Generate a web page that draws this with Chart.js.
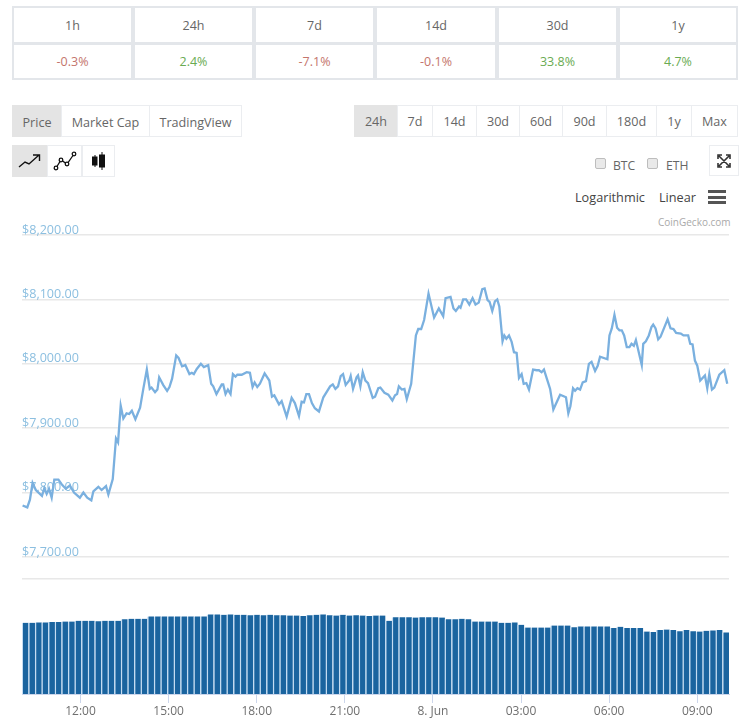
<!DOCTYPE html>
<html>
<head>
<meta charset="utf-8">
<title>Price chart</title>
<script src="https://cdn.jsdelivr.net/npm/chart.js@4"></script>
<style>
    html, body { margin: 0; padding: 0; background: #fff; }
    body { width: 748px; height: 720px; position: relative; overflow: hidden; font-family: "Open Sans", sans-serif; color: #666; }
    .abs { position: absolute; box-sizing: border-box; }
    .cell { border: 1px solid #e3e6ea; outline: 1px solid #e3e6ea; outline-offset: -2px; display: flex; align-items: center; justify-content: center; font-size: 12.5px; }
    .btn { border: 1px solid #ebedf0; display: flex; align-items: center; justify-content: center; font-size: 12.6px; background: #fff; }
    .btn.on { background: #e4e4e4; border-color: #e4e4e4; }
    .red { color: #c4756c; }
    .green { color: #6aab52; }
    .txt { white-space: nowrap; line-height: 1; }
    .check { width: 11px; height: 11px; background: #e9e9e9; border: 1px solid #bdbdbd; border-radius: 2px; }
    #chartBox { position: absolute; left: 0; top: 215px; width: 748px; height: 505px; }
</style>
</head>
<body>
<div id="statTable"></div>
<div id="buttons"></div>

<div class="abs btn on" style="left:12px;top:145px;width:36px;height:32px">
    <svg width="24" height="16" viewBox="0 0 24 16" fill="none" stroke="#111" stroke-width="1.4"><path d="M1 14 L7 9 L11 11 L21 2 M15 2 H21.5 V8"/></svg>
</div>
<div class="abs btn" style="left:47px;top:145px;width:35px;height:32px">
    <svg width="24" height="20" viewBox="0 0 24 20" fill="none" stroke="#111" stroke-width="1.3"><path d="M3 17 L8 9 L14 13 L21 3"/><circle cx="3" cy="17" r="1.8" fill="#fff"/><circle cx="8" cy="9" r="1.8" fill="#fff"/><circle cx="14" cy="13" r="1.8" fill="#fff"/><circle cx="21" cy="3" r="1.8" fill="#fff"/></svg>
</div>
<div class="abs btn" style="left:82px;top:145px;width:33px;height:32px">
    <svg width="16" height="20" viewBox="0 0 16 20" stroke="#111" fill="#111"><path d="M4 4 V16 M11 1 V19" stroke-width="1"/><rect x="1.5" y="6" width="4.5" height="8"/><rect x="8.5" y="4" width="5" height="12"/></svg>
</div>

<div class="abs check" style="left:595px;top:158px"></div>
<div class="abs txt" style="left:613px;top:160px;font-size:12.2px">BTC</div>
<div class="abs check" style="left:647px;top:158px"></div>
<div class="abs txt" style="left:666px;top:160px;font-size:12.2px">ETH</div>
<div class="abs btn" style="left:709px;top:145px;width:30px;height:31px">
    <svg width="14" height="14" viewBox="0 0 14 14" fill="none" stroke="#333" stroke-width="1.6"><path d="M2 2 L12 12 M12 2 L2 12 M1 5 V1 H5 M9 1 H13 V5 M1 9 V13 H5 M9 13 H13 V9"/></svg>
</div>
<div class="abs txt" style="left:575px;top:191px;font-size:12.7px;color:#444">Logarithmic</div>
<div class="abs txt" style="left:659px;top:191px;font-size:12.7px;color:#444">Linear</div>
<div class="abs" style="left:708px;top:190px;width:18px;height:3px;background:#555"></div>
<div class="abs" style="left:708px;top:196px;width:18px;height:3px;background:#555"></div>
<div class="abs" style="left:708px;top:201px;width:18px;height:3px;background:#555"></div>
<div class="abs txt" style="left:658px;top:217px;font-size:10px;color:#a9a9a9">CoinGecko.com</div>

<div id="chartBox"><canvas id="priceChart"></canvas></div>

<script>
/* ================= DATA ================= */
var statLabels = ["1h", "24h", "7d", "14d", "30d", "1y"];
var statValues = [-0.3, 2.4, -7.1, -0.1, 33.8, 4.7];

var priceTicks = [8200, 8100, 8000, 7900, 7800, 7700];
var timeTicks = [12, 15, 18, 21, 24, 27, 30, 33];
var timeLabels = ["12:00", "15:00", "18:00", "21:00", "8. Jun", "03:00", "06:00", "09:00"];

// hours counted from midnight of the first day
var priceHours = [
    10.03, 10.19, 10.28, 10.37, 10.48, 10.69, 10.77, 10.85, 10.93, 11.02, 11.11, 11.25, 11.36, 11.50, 11.64, 11.78,
    11.98, 12.10, 12.23, 12.37, 12.44, 12.61, 12.72, 12.87, 12.95, 13.10, 13.21, 13.28, 13.37, 13.46, 13.57, 13.66,
    13.75, 13.87, 14.03, 14.14, 14.26, 14.36, 14.42, 14.54, 14.62, 14.68, 14.82, 14.95, 15.03, 15.12, 15.26, 15.34,
    15.46, 15.57, 15.71, 15.79, 15.86, 15.96, 16.10, 16.20, 16.35, 16.45, 16.52, 16.63, 16.81, 16.86, 16.94, 17.02,
    17.11, 17.19, 17.28, 17.34, 17.49, 17.66, 17.77, 17.86, 17.93, 18.02, 18.11, 18.27, 18.43, 18.52, 18.60, 18.76,
    18.85, 19.02, 19.19, 19.30, 19.44, 19.53, 19.61, 19.69, 19.78, 19.88, 19.98, 20.12, 20.27, 20.50, 20.59, 20.68,
    20.77, 20.86, 20.94, 21.03, 21.15, 21.20, 21.28, 21.40, 21.45, 21.53, 21.61, 21.70, 21.79, 21.95, 22.03, 22.14,
    22.21, 22.35, 22.48, 22.62, 22.71, 22.78, 22.84, 22.94, 23.03, 23.11, 23.26, 23.32, 23.42, 23.50, 23.60, 23.70,
    23.85, 24.04, 24.20, 24.35, 24.43, 24.60, 24.70, 24.78, 24.89, 24.94, 25.03, 25.13, 25.24, 25.35, 25.45, 25.56,
    25.68, 25.76, 25.86, 25.93, 26.02, 26.11, 26.19, 26.26, 26.37, 26.43, 26.50, 26.59, 26.68, 26.76, 26.85, 26.93,
    27.02, 27.09, 27.18, 27.27, 27.41, 27.53, 27.61, 27.70, 27.78, 27.90, 27.99, 28.10, 28.33, 28.53, 28.61, 28.68,
    28.77, 28.84, 28.92, 29.01, 29.10, 29.21, 29.31, 29.40, 29.52, 29.61, 29.69, 29.94, 30.01, 30.09, 30.18, 30.27,
    30.35, 30.43, 30.51, 30.60, 30.69, 30.76, 30.84, 30.91, 31.11, 31.16, 31.25, 31.35, 31.44, 31.50, 31.58, 31.67,
    31.75, 31.99, 32.09, 32.19, 32.28, 32.44, 32.53, 32.69, 32.76, 32.84, 32.92, 33.00, 33.10, 33.26, 33.34, 33.41,
    33.50, 33.58, 33.75, 33.92, 34.02
];
var priceValues = [
    7780, 7777, 7789, 7815, 7804, 7795, 7807, 7798, 7806, 7792, 7820, 7820, 7813, 7806, 7811, 7800,
    7792, 7800, 7792, 7788, 7802, 7809, 7804, 7810, 7797, 7821, 7884, 7878, 7935, 7915, 7923, 7922,
    7927, 7914, 7932, 7961, 7991, 7961, 7963, 7956, 7960, 7979, 7967, 7958, 7964, 7977, 8013, 8009,
    7996, 7998, 7984, 7986, 7984, 7992, 8000, 7995, 7998, 7969, 7965, 7953, 7968, 7968, 7953, 7960,
    7953, 7984, 7980, 7983, 7983, 7987, 7986, 7964, 7971, 7964, 7969, 7985, 7974, 7949, 7951, 7937,
    7942, 7918, 7947, 7939, 7919, 7941, 7940, 7953, 7953, 7939, 7931, 7926, 7948, 7965, 7968, 7961,
    7965, 7981, 7984, 7967, 7974, 7981, 7961, 7979, 7982, 7965, 7987, 7974, 7970, 7947, 7949, 7962,
    7963, 7955, 7952, 7943, 7951, 7953, 7965, 7960, 7961, 7945, 7969, 7997, 8044, 8054, 8054, 8068,
    8109, 8072, 8086, 8074, 8102, 8104, 8086, 8082, 8089, 8087, 8100, 8100, 8092, 8102, 8092, 8095,
    8116, 8117, 8099, 8096, 8082, 8097, 8100, 8089, 8035, 8044, 8039, 8044, 8034, 8018, 8017, 7978,
    7984, 7969, 7970, 7960, 7991, 7990, 7990, 7987, 7991, 7974, 7961, 7929, 7952, 7948, 7923, 7934,
    7962, 7958, 7962, 7960, 7971, 7973, 8000, 8003, 7989, 7997, 8011, 8007, 8044, 8055, 8076, 8056,
    8052, 8052, 8044, 8026, 8026, 8031, 8028, 8037, 7998, 8031, 8035, 8044, 8057, 8061, 8055, 8038,
    8042, 8069, 8055, 8054, 8048, 8047, 8044, 8044, 8031, 8030, 8005, 7997, 7974, 7982, 7962, 7984,
    7960, 7963, 7983, 7990, 7969
];

// volume in billions, one bar per sampling step
var volumeValues = [
    17.8, 17.8, 17.9, 17.9, 18.0, 18.0, 18.1, 18.1, 18.3, 18.3, 18.3, 18.2, 18.3, 18.3, 18.3, 18.7,
    18.8, 18.8, 18.8, 19.4, 19.4, 19.4, 19.4, 19.4, 19.4, 19.4, 19.4, 19.4, 19.9, 19.9, 19.8, 19.9,
    19.8, 19.8, 19.7, 19.8, 19.7, 19.8, 19.7, 19.7, 19.6, 19.6, 19.5, 19.7, 19.8, 19.9, 19.7, 19.6,
    19.8, 19.6, 19.7, 19.6, 19.5, 19.6, 19.6, 18.3, 19.2, 19.2, 19.2, 19.1, 19.2, 19.2, 19.2, 19.1,
    18.7, 18.7, 18.8, 18.7, 18.1, 18.1, 18.1, 18.1, 17.8, 17.8, 17.9, 17.3, 16.6, 16.6, 16.6, 16.6,
    17.1, 17.1, 17.1, 16.7, 16.9, 16.9, 16.9, 16.9, 16.9, 16.5, 16.8, 16.5, 16.5, 16.5, 15.6, 15.5,
    16.0, 16.1, 16.0, 15.7, 16.0, 15.7, 15.6, 15.8, 15.9, 16.0, 15.4
];
var volumeStart = 10.12;
var volumeStep = 0.225;

var statColumns = [12, 133, 254, 375, 497, 618, 738];
var rangeButtons = [
    ["Price", 12, 62, true], ["Market Cap", 61, 150, false], ["TradingView", 149, 242, false],
    ["24h", 354, 398, true], ["7d", 397, 433, false], ["14d", 432, 477, false], ["30d", 476, 520, false],
    ["60d", 519, 563, false], ["90d", 562, 607, false], ["180d", 606, 657, false], ["1y", 656, 692, false], ["Max", 691, 738, false]
];

/* ================= HTML PARTS ================= */
function buildStats() {
    var html = "";
    statLabels.forEach(function (label, i) {
        var left = statColumns[i];
        var width = statColumns[i + 1] - left;
        var value = statValues[i];
        html += '<div class="abs cell" style="left:' + left + 'px;top:6px;width:' + width + 'px;height:38px">' + label + '</div>';
        html += '<div class="abs cell ' + (value < 0 ? "red" : "green") + '" style="left:' + left + 'px;top:43px;width:' + width + 'px;height:37px">' + value.toFixed(1) + '%</div>';
    });
    document.getElementById("statTable").innerHTML = html;
}

function buildButtons() {
    var html = "";
    rangeButtons.forEach(function (b, i) {
        var nudge = i < 3 ? "padding-top:2px;" : "";
        html += '<div class="abs btn' + (b[3] ? " on" : "") + '" style="' + nudge + 'left:' + b[1] + 'px;top:105px;width:' + (b[2] - b[1]) + 'px;height:32px">' + b[0] + '</div>';
    });
    document.getElementById("buttons").innerHTML = html;
}

/* ================= CHART ================= */
function renderChart() {
    var linePoints = priceHours.map(function (h, i) { return { x: h, y: priceValues[i] }; });
    var barPoints = volumeValues.map(function (v, i) { return { x: volumeStart + i * volumeStep, y: v }; });

    new Chart(document.getElementById("priceChart"), {
        data: {
            datasets: [
                {
                    type: "line",
                    data: linePoints,
                    yAxisID: "y",
                    borderColor: "#7ab0df",
                    borderWidth: 2.3,
                    pointRadius: 0,
                    tension: 0
                },
                {
                    type: "bar",
                    data: barPoints,
                    yAxisID: "yVol",
                    backgroundColor: "#1a649f",
                    borderColor: "#c4dcf2",
                    borderWidth: { left: 1.4, right: 0, top: 0, bottom: 0 },
                    barThickness: 6.6
                }
            ]
        },
        options: {
            responsive: false,
            animation: false,
            layout: { padding: { left: 22, right: 19, top: 20, bottom: 0 } },
            plugins: { legend: { display: false }, tooltip: { enabled: false } },
            scales: {
                x: {
                    type: "linear",
                    min: 10.01,
                    max: 34.08,
                    offset: false,
                    afterBuildTicks: function (scale) {
                        scale.ticks = timeTicks.map(function (t) { return { value: t }; });
                    },
                    afterFit: function (scale) { scale.height = 26; },
                    ticks: {
                        autoSkip: false,
                        maxRotation: 0,
                        padding: 1,
                        color: "#6f6f6f",
                        font: { family: "Open Sans", size: 12 },
                        callback: function (value) { return timeLabels[timeTicks.indexOf(value)]; }
                    },
                    grid: { offset: false, drawOnChartArea: false, tickLength: 9, tickColor: "#ccd6eb", lineWidth: 1 },
                    border: { color: "#ccd6eb" }
                },
                yVol: {
                    type: "linear",
                    position: "left",
                    stack: "panes",
                    stackWeight: 115,
                    min: 0,
                    max: 28.75,
                    afterFit: function (scale) { scale.width = 0; },
                    ticks: { display: false },
                    grid: { display: false },
                    border: { display: false }
                },
                y: {
                    type: "linear",
                    position: "left",
                    stack: "panes",
                    stackWeight: 344,
                    min: 7665.8,
                    max: 8200,
                    afterBuildTicks: function (scale) {
                        scale.ticks = priceTicks.concat([7665.8]).map(function (t) { return { value: t }; });
                    },
                    afterFit: function (scale) { scale.width = 0; },
                    ticks: {
                        mirror: true,
                        padding: 0,
                        labelOffset: -5,
                        autoSkip: false,
                        color: "#8cbfe0",
                        font: { family: "Open Sans", size: 12.6 },
                        callback: function (value) {
                            if (priceTicks.indexOf(value) < 0) return "";
                            return "$" + value.toLocaleString("en-US", { minimumFractionDigits: 2 });
                        }
                    },
                    grid: { color: "#e8e8e8", lineWidth: 1.4, drawTicks: false },
                    border: { display: false }
                }
            }
        }
    });
}

document.getElementById("priceChart").width = 748;
document.getElementById("priceChart").height = 505;
buildStats();
buildButtons();
renderChart();
</script>
</body>
</html>
